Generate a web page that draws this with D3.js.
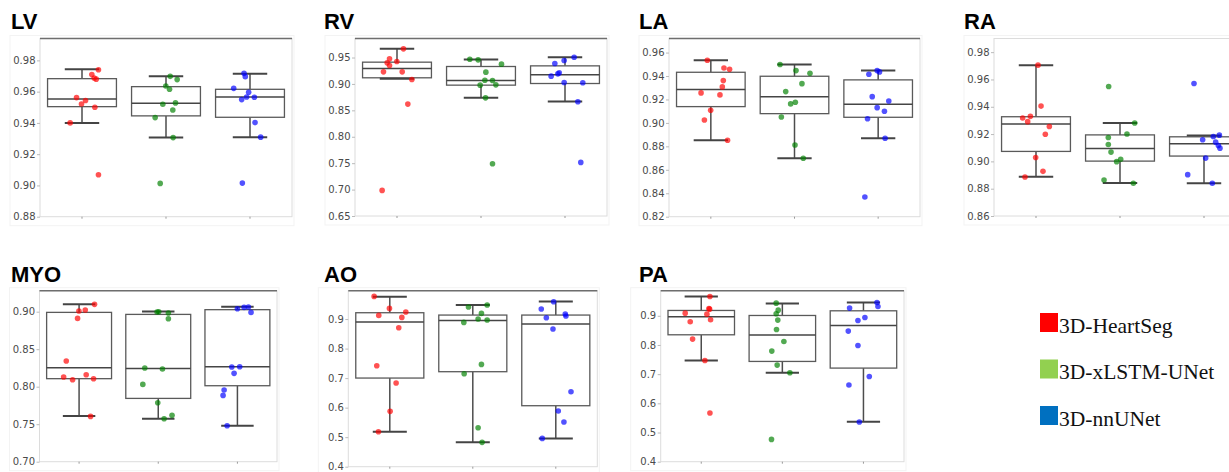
<!DOCTYPE html>
<html>
<head>
<meta charset="utf-8">
<script src="https://cdn.jsdelivr.net/npm/d3@7"></script>
<style>
  html, body { margin: 0; padding: 0; background: #fff; }
  svg { display: block; }
</style>
</head>
<body>
<svg id="chart" width="1229" height="472"></svg>
<script>
// Methods compared in every panel
const methods = ["3D-HeartSeg", "3D-xLSTM-UNet", "3D-nnUNet"];
const methodColors = ["red", "green", "blue"];
const legendColors = ["#ff0000", "#92d050", "#0070c0"];

// Dice per case, one list per method: [HeartSeg, xLSTM-UNet, nnUNet]
const lvScores = [
  [0.974, 0.9709, 0.9687, 0.968, 0.9562, 0.9543, 0.9521, 0.950, 0.940, 0.9068],
  [0.9698, 0.9677, 0.9636, 0.9615, 0.9528, 0.9519, 0.9483, 0.9434, 0.9306, 0.9013],
  [0.9717, 0.9696, 0.9621, 0.9596, 0.9566, 0.9564, 0.9549, 0.9402, 0.9309, 0.9015]
];
const rvScores = [
  [0.9664, 0.9475, 0.9424, 0.9399, 0.9349, 0.9229, 0.9229, 0.9084, 0.8618, 0.6985],
  [0.9468, 0.9456, 0.9374, 0.9223, 0.9071, 0.9065, 0.8977, 0.8983, 0.8737, 0.7489],
  [0.9506, 0.9443, 0.9387, 0.921, 0.9191, 0.9147, 0.9027, 0.9021, 0.8662, 0.7515]
];
const laScores = [
  [0.9535, 0.9469, 0.9458, 0.9361, 0.9307, 0.9256, 0.9239, 0.9108, 0.9025, 0.8852],
  [0.9498, 0.9446, 0.9424, 0.9335, 0.9267, 0.9176, 0.9162, 0.9051, 0.8812, 0.8698],
  [0.9446, 0.9435, 0.9415, 0.9224, 0.9187, 0.913, 0.9099, 0.9036, 0.8869, 0.8368]
];
const raScores = [
  [0.9705, 0.9405, 0.933, 0.9318, 0.9291, 0.9255, 0.9199, 0.9029, 0.8927, 0.8886],
  [0.9548, 0.9281, 0.9201, 0.9175, 0.9124, 0.9068, 0.9015, 0.8998, 0.8864, 0.884],
  [0.957, 0.9192, 0.9182, 0.9158, 0.9141, 0.9116, 0.9097, 0.9024, 0.8903, 0.884]
];
const myoScores = [
  [0.9098, 0.9022, 0.9009, 0.8911, 0.8342, 0.816, 0.8129, 0.8107, 0.8093, 0.7604],
  [0.900, 0.8996, 0.8982, 0.8907, 0.8249, 0.8236, 0.8031, 0.7787, 0.7618, 0.7573],
  [0.9062, 0.9058, 0.904, 0.8991, 0.8267, 0.8262, 0.8178, 0.7956, 0.7884, 0.748]
];
const aoScores = [
  [0.9767, 0.9361, 0.9237, 0.9124, 0.9056, 0.8707, 0.742, 0.6833, 0.5874, 0.5185],
  [0.9474, 0.9406, 0.9192, 0.9, 0.8966, 0.8887, 0.7465, 0.7149, 0.532, 0.4824],
  [0.9587, 0.9339, 0.9169, 0.9102, 0.9045, 0.8661, 0.6539, 0.5885, 0.5512, 0.4959]
];
const paScores = [
  [0.9662, 0.9251, 0.9228, 0.9091, 0.9057, 0.8863, 0.8795, 0.8201, 0.747, 0.5667],
  [0.9434, 0.9194, 0.9068, 0.8852, 0.8532, 0.8121, 0.779, 0.731, 0.7048, 0.4765],
  [0.9457, 0.932, 0.9263, 0.8943, 0.884, 0.8475, 0.7984, 0.6922, 0.6626, 0.5358]
];

// Horizontal strip offsets of each case, as a fraction of the category band
const lvJitter = [
  [0.196, 0.117, 0.145, 0.169, -0.065, 0.042, -0.006, 0.153, -0.141, 0.196],
  [0.05, 0.133, -0.002, 0.042, 0.113, -0.038, 0.081, -0.129, 0.085, -0.069],
  [-0.071, -0.056, -0.194, -0.016, -0.04, 0.052, -0.099, 0.06, 0.127, -0.091]
];
const rvJitter = [
  [0.077, -0.089, -0.002, -0.117, -0.089, -0.161, 0.062, 0.177, 0.129, -0.177],
  [-0.133, -0.034, 0.244, 0.058, 0.046, 0.137, -0.01, 0.177, 0.054, 0.137],
  [0.109, -0.01, -0.121, -0.069, -0.085, -0.165, -0.01, 0.212, 0.153, 0.188]
];
const laJitter = [
  [-0.042, 0.157, 0.224, 0.149, 0.137, -0.117, 0.109, -0.002, -0.077, 0.2],
  [-0.173, 0.018, 0.185, 0.089, -0.105, 0.01, -0.046, -0.157, 0.006, 0.105],
  [-0.012, 0.016, -0.111, -0.071, 0.127, -0.012, 0.075, -0.127, 0.083, -0.159]
];
const raJitter = [
  [0.024, 0.06, -0.067, -0.159, -0.099, 0.159, 0.111, -0.004, 0.083, -0.131],
  [-0.135, 0.175, 0.083, -0.139, -0.139, -0.107, 0.008, -0.04, -0.19, 0.159],
  [-0.119, 0.183, 0.111, -0.016, 0.139, 0.171, 0.19, 0.02, -0.194, 0.099]
];
const myoJitter = [
  [0.195, 0.078, -0.002, -0.019, -0.162, 0.09, -0.195, 0.183, -0.082, 0.145],
  [0.006, -0.015, 0.128, 0.128, -0.17, 0.053, -0.195, -0.006, 0.174, 0.074],
  [0.139, 0.084, 0, 0.172, 0.029, -0.071, -0.042, -0.168, -0.181, -0.13]
];
const aoJitter = [
  [-0.189, -0.004, 0.193, -0.133, 0.145, 0.108, -0.157, 0.076, 0.004, -0.137],
  [0.173, -0.052, 0.104, 0.064, 0.173, -0.108, 0.104, -0.104, 0.064, 0.112],
  [-0.026, -0.175, 0.114, 0.122, -0.114, -0.034, 0.183, 0.03, 0.098, -0.163]
];
const paJitter = [
  [0.107, 0.095, 0.103, -0.198, 0.07, 0.115, -0.136, -0.107, 0.045, 0.107],
  [-0.076, -0.051, -0.076, -0.056, -0.072, 0.019, -0.13, -0.064, 0.093, -0.134],
  [0.167, 0.179, -0.171, 0.018, -0.068, -0.187, -0.068, 0.072, -0.179, -0.051]
];

// Box summaries per method: [lower whisker, Q1, median, Q3, upper whisker]
const lvBoxes = [
  [0.940, 0.9504, 0.9553, 0.9683, 0.9743],
  [0.9306, 0.9445, 0.9526, 0.9632, 0.9698],
  [0.9309, 0.9436, 0.9566, 0.9615, 0.9715]
];
const rvBoxes = [
  [0.9097, 0.9116, 0.9292, 0.9412, 0.9664],
  [0.8737, 0.8977, 0.9065, 0.933, 0.9462],
  [0.8668, 0.9008, 0.9172, 0.9342, 0.9506]
];
const laBoxes = [
  [0.8852, 0.9139, 0.9284, 0.9432, 0.9535],
  [0.8698, 0.9079, 0.9224, 0.9398, 0.9498],
  [0.8869, 0.9048, 0.9159, 0.9367, 0.9446]
];
const raBoxes = [
  [0.8888, 0.9073, 0.9274, 0.9327, 0.9705],
  [0.8842, 0.9002, 0.9095, 0.9194, 0.9281],
  [0.884, 0.9039, 0.9129, 0.918, 0.9189]
];
const myoBoxes = [
  [0.7609, 0.8107, 0.8253, 0.8991, 0.9098],
  [0.7573, 0.7844, 0.8244, 0.8964, 0.9004],
  [0.748, 0.8013, 0.8267, 0.9027, 0.9067]
];
const aoBoxes = [
  [0.5185, 0.7002, 0.8898, 0.9214, 0.9756],
  [0.4824, 0.7217, 0.8955, 0.9135, 0.9474],
  [0.4959, 0.6065, 0.8831, 0.9135, 0.9598]
];
const paBoxes = [
  [0.747, 0.8349, 0.8966, 0.9183, 0.9662],
  [0.7048, 0.7436, 0.8338, 0.9011, 0.9422],
  [0.537, 0.7208, 0.8669, 0.9171, 0.9457]
];

// Y-axis ticks and limits per structure
const lvTicks = [0.88, 0.90, 0.92, 0.94, 0.96, 0.98];
const rvTicks = [0.65, 0.70, 0.75, 0.80, 0.85, 0.90, 0.95];
const laTicks = [0.82, 0.84, 0.86, 0.88, 0.90, 0.92, 0.94, 0.96];
const raTicks = [0.86, 0.88, 0.90, 0.92, 0.94, 0.96, 0.98];
const myoTicks = [0.70, 0.75, 0.80, 0.85, 0.90];
const aoTicks = [0.4, 0.5, 0.6, 0.7, 0.8, 0.9];
const paTicks = [0.4, 0.5, 0.6, 0.7, 0.8, 0.9];
const lvLimits = [0.88, 0.994];
const rvLimits = [0.65, 0.986];
const laLimits = [0.82, 0.972];
const raLimits = [0.86, 0.99];
const myoLimits = [0.70, 0.928];
const aoLimits = [0.4, 0.996];
const paLimits = [0.4, 0.986];

// Panel layout: plot rectangle (x0, x1, y0, y1) and title origin
const panels = [
  { name: "LV",  scores: lvScores,  jitter: lvJitter,  boxes: lvBoxes,  ticks: lvTicks,  limits: lvLimits,  fmt: ".2f", x0: 40,  x1: 292, y0: 38.5,  y1: 216.7, tx: 11,  ty: 29,  darkTop: true },
  { name: "RV",  scores: rvScores,  jitter: rvJitter,  boxes: rvBoxes,  ticks: rvTicks,  limits: rvLimits,  fmt: ".2f", x0: 355, x1: 607, y0: 38.5,  y1: 216,   tx: 324, ty: 29,  darkTop: true },
  { name: "LA",  scores: laScores,  jitter: laJitter,  boxes: laBoxes,  ticks: laTicks,  limits: laLimits,  fmt: ".2f", x0: 669, x1: 920, y0: 38.5,  y1: 216.7, tx: 639, ty: 29,  darkTop: true },
  { name: "RA",  scores: raScores,  jitter: raJitter,  boxes: raBoxes,  ticks: raTicks,  limits: raLimits,  fmt: ".2f", x0: 994, x1: 1246, y0: 38.5, y1: 216,   tx: 964, ty: 29,  darkTop: false },
  { name: "MYO", scores: myoScores, jitter: myoJitter, boxes: myoBoxes, ticks: myoTicks, limits: myoLimits, fmt: ".2f", x0: 39.5, x1: 277, y0: 290.7, y1: 461.7, tx: 11,  ty: 281.5, darkTop: true },
  { name: "AO",  scores: aoScores,  jitter: aoJitter,  boxes: aoBoxes,  ticks: aoTicks,  limits: aoLimits,  fmt: ".1f", x0: 348.3, x1: 597.3, y0: 290.7, y1: 466.7, tx: 324, ty: 281.5, darkTop: true },
  { name: "PA",  scores: paScores,  jitter: paJitter,  boxes: paBoxes,  ticks: paTicks,  limits: paLimits,  fmt: ".1f", x0: 660.7, x1: 904, y0: 290.7, y1: 461.7, tx: 639, ty: 281.5, darkTop: true }
];

const svg = d3.select("#chart");

panels.forEach(p => {
  const g = svg.append("g");

  const x = d3.scaleBand().domain(methods).range([p.x0, p.x1]).padding(0);
  const y = d3.scaleLinear().domain(p.limits).range([p.y1, p.y0]);
  const bw = x.bandwidth();
  const boxW = bw * 0.82;

  // faint frame around the axes area
  g.append("rect")
    .attr("x", p.x0 - 30).attr("y", p.y0 - 3)
    .attr("width", p.x1 - p.x0 + 32).attr("height", p.y1 - p.y0 + 12)
    .attr("fill", "none").attr("stroke", "#f3f3f3").attr("stroke-width", 1);

  // plot area spines
  g.append("rect")
    .attr("x", p.x0).attr("y", p.y0)
    .attr("width", p.x1 - p.x0).attr("height", p.y1 - p.y0)
    .attr("fill", "#fff").attr("stroke", "#dcdcdc").attr("stroke-width", 1);
  if (p.darkTop) {
    g.append("line")
      .attr("x1", p.x0).attr("x2", p.x1)
      .attr("y1", p.y0).attr("y2", p.y0)
      .attr("stroke", "#6e6e6e").attr("stroke-width", 1.4);
  }

  // y axis
  const yAxis = d3.axisLeft(y).tickValues(p.ticks).tickFormat(d3.format(p.fmt))
    .tickSize(3).tickPadding(1.5);
  const ya = g.append("g").attr("transform", `translate(${p.x0},0)`).call(yAxis);
  ya.select(".domain").remove();
  ya.selectAll(".tick line").attr("stroke", "#bbb");
  ya.selectAll(".tick text")
    .attr("font-family", "DejaVu Sans, sans-serif")
    .attr("font-size", 10)
    .attr("fill", "#4a4a4a");

  // x axis: small ticks only
  const xAxis = d3.axisBottom(x).tickSize(2).tickFormat("");
  const xa = g.append("g").attr("transform", `translate(0,${p.y1})`).call(xAxis);
  xa.select(".domain").remove();
  xa.selectAll(".tick line").attr("stroke", "#999");

  // boxes
  methods.forEach((m, i) => {
    const [lo, q1, med, q3, hi] = p.boxes[i];
    const cx = x(m) + bw / 2;
    const bg = g.append("g");
    bg.append("line")
      .attr("x1", cx).attr("x2", cx).attr("y1", y(hi)).attr("y2", y(q3))
      .attr("stroke", "#4d4d4d").attr("stroke-width", 1.5);
    bg.append("line")
      .attr("x1", cx).attr("x2", cx).attr("y1", y(q1)).attr("y2", y(lo))
      .attr("stroke", "#4d4d4d").attr("stroke-width", 1.5);
    bg.append("rect")
      .attr("x", cx - boxW / 2).attr("y", y(q3))
      .attr("width", boxW).attr("height", y(q1) - y(q3))
      .attr("fill", "#fff").attr("stroke", "#5a5a5a").attr("stroke-width", 1.3);
    bg.append("line")
      .attr("x1", cx - boxW / 2).attr("x2", cx + boxW / 2).attr("y1", y(med)).attr("y2", y(med))
      .attr("stroke", "#454545").attr("stroke-width", 1.5);
    [lo, hi].forEach(v => {
      bg.append("line")
        .attr("x1", cx - boxW / 4).attr("x2", cx + boxW / 4).attr("y1", y(v)).attr("y2", y(v))
        .attr("stroke", "#444").attr("stroke-width", 2);
    });
  });

  // individual cases
  methods.forEach((m, i) => {
    const cx = x(m) + bw / 2;
    g.append("g").selectAll("circle")
      .data(p.scores[i].map((v, k) => ({ v, j: p.jitter[i][k] })))
      .join("circle")
      .attr("cx", d => cx + d.j * bw)
      .attr("cy", d => y(d.v))
      .attr("r", 2.8)
      .attr("fill", methodColors[i])
      .attr("fill-opacity", 0.68);
  });

  // panel title
  g.append("text")
    .attr("x", p.tx).attr("y", p.ty)
    .attr("font-family", "Liberation Sans, Arial, sans-serif")
    .attr("font-weight", "bold")
    .attr("font-size", 22)
    .attr("fill", "#000")
    .text(p.name);
});

// legend
const legend = svg.append("g");
methods.forEach((m, i) => {
  const top = 313 + i * 46.5;
  legend.append("rect")
    .attr("x", 1040).attr("y", top)
    .attr("width", 18).attr("height", 19)
    .attr("fill", legendColors[i]);
  legend.append("text")
    .attr("x", 1059).attr("y", top + 19.5)
    .attr("font-family", "Liberation Serif, Times New Roman, serif")
    .attr("font-size", 21.5)
    .attr("fill", "#111")
    .text(m);
});
</script>
</body>
</html>
